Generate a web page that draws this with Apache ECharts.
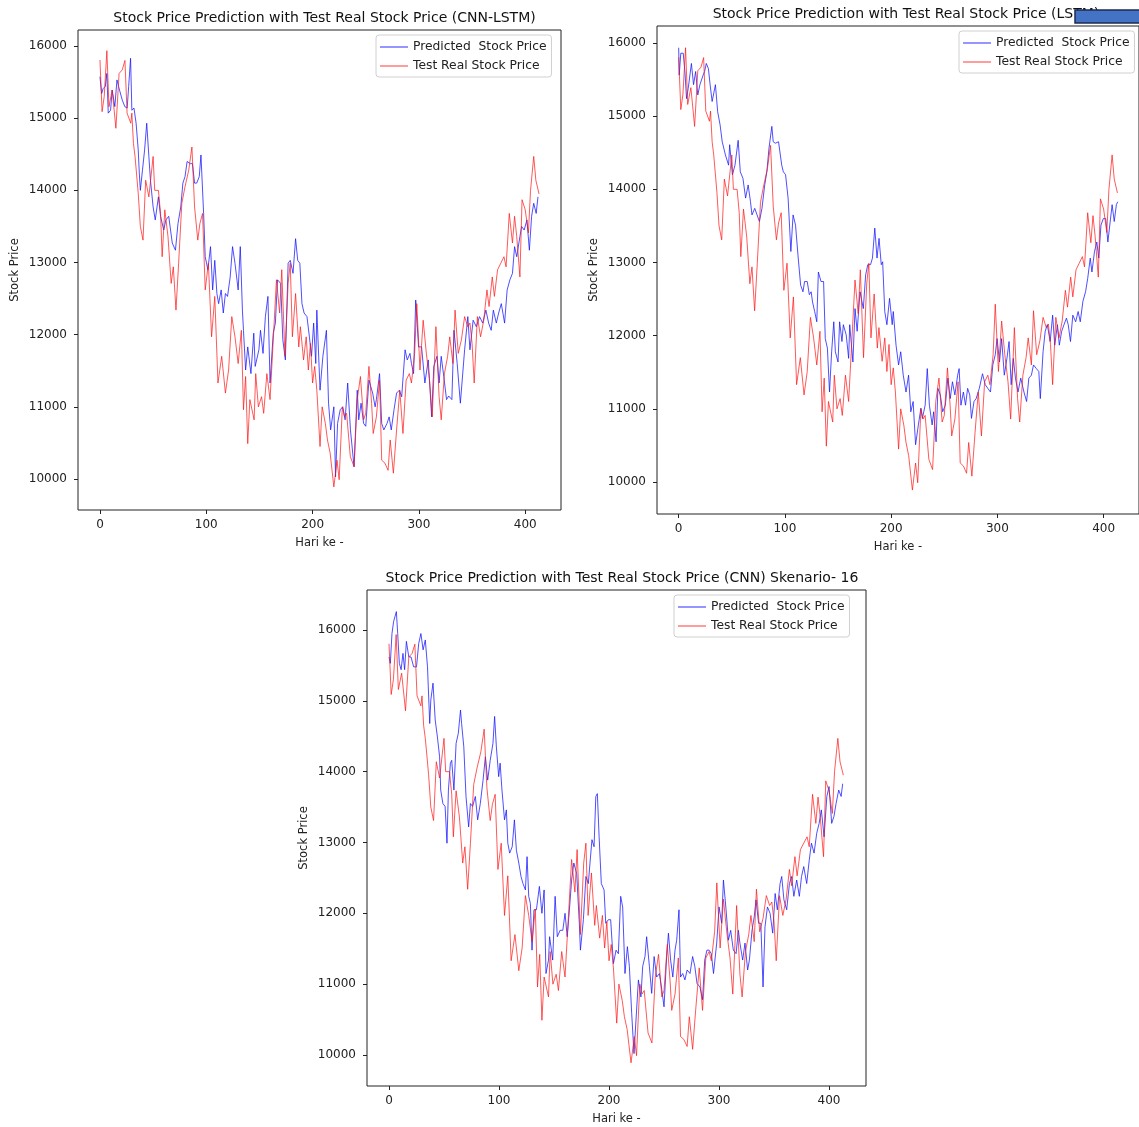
<!DOCTYPE html>
<html>
<head>
<meta charset="utf-8">
<script src="https://cdn.jsdelivr.net/npm/echarts@6/dist/echarts.min.js"></script>
<style>
html,body{margin:0;padding:0;background:#fff;}
#chart{width:1139px;height:1127px;}
</style>
</head>
<body>
<div id="chart"></div>
<script>
// ---- Data: [day, price] ----
const titles = [
  'Stock Price Prediction with Test Real Stock Price (CNN-LSTM)',
  'Stock Price Prediction with Test Real Stock Price (LSTM)',
  'Stock Price Prediction with Test Real Stock Price (CNN) Skenario- 16'
];
const seriesNames = ['Predicted  Stock Price', 'Test Real Stock Price'];
const xTicks = [0, 100, 200, 300, 400];
const yTicks = [10000, 11000, 12000, 13000, 14000, 15000, 16000];

const realPrice = [[0,15806],[2,15090],[4,15300],[6.5,15935],[8.5,15160],[11.5,15390],[15,14860],[18,15620],[21,15670],[23.5,15800],[25.5,15070],[29,14930],[30,15070],[31.5,14650],[33,14470],[36,13960],[38,13500],[40.5,13310],[43,14140],[46,13910],[50,14470],[51.5,14000],[55,14000],[57,13680],[58.5,13080],[61,13730],[64,13360],[67,12710],[69,12940],[71.5,12340],[74,12990],[77,13820],[80,14050],[83.5,14280],[86.5,14600],[89,13770],[92,13310],[94,13540],[96.5,13680],[99,12620],[102,12990],[105,11970],[108,12530],[111,11330],[114.5,11700],[118,11190],[121,11510],[124,12250],[127,11970],[130,11600],[133,12060],[135,10960],[137,11420],[139,10490],[141,11100],[145,10820],[146.5,11460],[149,11000],[152,11140],[154,10910],[157,11460],[160,11100],[163,11930],[166,12760],[169,12300],[171,12900],[174,11700],[177,12710],[179,12990],[181,11970],[184,12570],[187,11830],[188.5,12110],[191.5,11650],[194,11970],[196,11510],[198,11880],[200,11330],[202,11560],[204,11230],[207,10450],[209,11000],[212,10770],[214,10540],[216.5,10360],[220,9890],[223,10260],[225,9990],[228,11000],[230,10860],[232,10910],[235.5,10310],[239,10170],[242,11100],[245,11420],[248,10820],[250,10910],[253,11560],[255.5,11050],[257,10630],[260,10860],[263,11370],[265,10260],[268,10220],[271,10120],[273,10540],[276,10080],[279,10680],[282,11230],[285,10630],[288,11370],[291,11460],[293,11330],[296,11740],[298,12430],[301,11510],[304,12200],[307,11740],[310,11370],[312.5,10860],[316,12110],[319,11140],[321,10820],[324,11460],[327,11700],[329,11970],[332,11600],[334,12340],[337,11740],[340,11930],[343,12250],[346,12110],[348,12160],[350,11880],[352,11330],[355,12250],[358,11970],[361,12200],[364,12620],[366,12390],[369,12800],[371,12530],[374,12900],[377,12990],[380,13080],[382,12940],[385,13680],[388,13270],[390,13640],[392,13360],[395,12800],[397,13870],[400,13730],[403,13410],[405,14000],[408,14470],[410,14140],[413,13950]];

const predCnnLstm = [[0,15575],[1.6,15340],[3,15410],[5,15440],[6.5,15620],[7.8,15070],[10,15110],[11.5,15390],[14,15160],[16,15530],[18.4,15390],[21,15250],[23.4,15160],[25.6,15140],[27,15440],[28.8,15830],[30,15110],[32,15140],[34,14930],[36,14560],[37,14240],[38,14000],[40,14280],[42,14560],[44,14930],[46,14470],[47.5,14140],[50,13770],[52,13590],[55,13910],[57,13640],[60,13450],[62,13590],[64.7,13640],[68,13270],[71,13170],[73.4,13540],[76,13770],[78,14100],[80,14190],[82,14400],[85,14370],[87,14370],[89,14100],[91,14100],[93.4,14190],[95,14490],[97.5,13680],[99,13080],[101.5,12900],[104,13220],[106,12620],[108,13030],[110,12570],[111.6,12430],[114,12620],[116,12300],[118,12570],[120,12530],[122.5,12800],[124.7,13220],[127,12990],[130,12620],[132,13220],[134,12340],[135,12060],[137,11510],[139,11830],[142,11460],[144.7,12020],[146,11560],[149.5,11790],[151,12060],[153.4,11740],[155.6,12250],[158,12530],[160,11330],[163,12020],[165,12160],[167,12760],[170,12710],[172,11930],[174.4,11650],[177,12990],[179,13030],[181.6,12850],[184,13330],[186,13030],[188,12990],[190,12430],[192,12300],[194.7,12250],[197,11970],[199,11700],[201,12160],[203,11600],[204,12340],[207,11230],[209.7,11700],[213,12060],[215,11050],[217,10680],[220,11000],[221.6,10030],[223.5,10770],[226,10960],[228.4,11000],[230.6,10820],[233,11330],[235.6,10680],[239,10170],[242,11230],[243.4,10820],[245.6,11050],[248,10770],[250,10730],[253,11370],[256.5,11190],[258.8,11000],[260,11100],[263,11460],[265,10770],[267,10680],[270,10770],[272,10860],[274,10680],[276.6,10960],[279,11190],[281.6,11230],[283.8,11140],[287,11790],[289,11650],[291.6,11740],[293,11600],[295,11460],[297,12480],[299.7,11830],[302.5,11830],[305.6,11330],[308.8,11650],[312,10860],[314,11560],[317,11700],[319,11330],[321,11700],[323.4,11420],[326,11100],[328,11150],[331,11100],[333,12060],[336,11600],[339,11050],[343,11790],[346,12250],[348,11790],[351,12200],[354,12110],[357,12250],[360,12160],[363,12340],[365.6,12160],[368,12060],[370,12340],[372.8,12160],[375,12300],[377.5,12430],[380.6,12160],[383,12620],[385.6,12760],[388,12850],[390,13220],[392,13080],[395,13360],[396.6,13500],[399,13450],[401.6,13590],[403.9,13170],[406,13640],[408,13820],[410.3,13680],[412,13910]];

const predLstm = [[0,15935],[0.5,15560],[2,15860],[4.3,15860],[6,15585],[7.4,15240],[9,15380],[10.5,15400],[12,15720],[14,15430],[16,15610],[18,15290],[20,15430],[23,15560],[24.4,15610],[26,15720],[28,15650],[29.6,15430],[31.5,15200],[34.6,15430],[36.7,15060],[39,14880],[41,14650],[44,14470],[47,14330],[48,14610],[50.6,14200],[53,14330],[56,14670],[58,14240],[60.5,14150],[63,13880],[65.4,14060],[67.6,13830],[69,13650],[71.6,13740],[73.8,13650],[76,13560],[78.4,13740],[81,14060],[83,14240],[85,14560],[87.7,14860],[89,14650],[91,14630],[94,14650],[95,14670],[97,14330],[98.5,14240],[100.6,14200],[103,13880],[105.6,13150],[107.7,13650],[110,13510],[112.3,13100],[114.8,12690],[117,12600],[118.5,12740],[121,12740],[123,12560],[124.7,12600],[126,12460],[128,12330],[130,12190],[131.5,12870],[134,12740],[136.4,12740],[138,11960],[140,11830],[142,11230],[144,11780],[146,12190],[147.5,11780],[150,11640],[151.5,12190],[153.7,11920],[155,12150],[157.7,12010],[160,11690],[161,12150],[164,11640],[166,12370],[168,12060],[170.7,12600],[173.8,12370],[176,12830],[178,12970],[180.6,12970],[182.4,13060],[184.6,13470],[186.7,13060],[188.6,13330],[190.7,12970],[192,13010],[194,12330],[196,12150],[198.5,12510],[201,12150],[202,12330],[204.6,11870],[207,11600],[209,11780],[211.4,11460],[214,11230],[216.4,11460],[218.5,10960],[220.7,11100],[223,10510],[225.6,10780],[228,11010],[229.4,10870],[232,11050],[234,11550],[236,11050],[238.6,10780],[240,10960],[242.3,10550],[244,11280],[246.3,11190],[248.5,10960],[251,11050],[253.4,11420],[255.6,11140],[257.7,11370],[260,11190],[262.6,11460],[264,11550],[265.7,11050],[268,11230],[270,11050],[272,11280],[274,11190],[275.6,10870],[278,11100],[280,11140],[283,11280],[286,11480],[288.6,11330],[291,11280],[293.5,11230],[295.7,11600],[298,11740],[299.7,11960],[302,11640],[304,11960],[306.5,11460],[309,11690],[311,11920],[313,11330],[315,11690],[317,11420],[319.4,11230],[322,11420],[325,11230],[327.5,11100],[329.6,11420],[332,11460],[334,11600],[336.7,11550],[339,11510],[340.4,11140],[343,11780],[345,12060],[347,12150],[349.7,11920],[352,12280],[354,11870],[356.5,12150],[358.3,11870],[360.5,12060],[362.7,12150],[365,12240],[366.7,12150],[368.8,11920],[371,12280],[373.7,12190],[376,12330],[378,12190],[380.5,12470],[383,12600],[385,12780],[387.4,13060],[389,12870],[391.4,13150],[393.6,13280],[395.4,13060],[397.5,13510],[399.7,13600],[402,13600],[404,13280],[405.6,13280],[408,13790],[410,13560],[412,13790],[413.3,13830]];

const predCnn = [[0,15620],[1.2,15530],[2.7,15950],[4.2,16120],[6.7,16260],[7.9,15950],[9.4,15530],[11,15440],[12.7,15670],[14.2,15440],[15.8,15840],[18,15620],[20,15620],[22.4,15480],[25,15480],[27,15810],[29,15950],[31,15720],[33,15860],[35,15480],[37,14680],[38,15010],[40,15250],[42,14730],[44,14490],[46,14210],[47,13740],[49,13550],[51,13510],[52.7,12990],[54,13740],[55.8,14120],[57,14160],[59,13740],[61,14400],[63,14540],[65,14870],[66,14680],[68,14350],[70,13650],[72.4,13220],[74,13550],[76,13510],[78.5,13650],[80.6,13320],[83,13550],[85.5,13880],[87.6,14210],[89.7,13880],[92,14160],[94.5,14400],[96,14780],[97.6,14350],[99.7,13930],[101,14120],[102.7,13740],[105,13320],[106.7,13460],[108,12990],[109.7,12850],[112,12940],[114,13320],[115.8,12890],[118,12710],[120,12520],[121.8,12420],[124,12330],[125.5,12800],[127,12240],[128.5,12140],[130,11480],[131.8,12050],[134,12050],[136.7,12380],[139,12000],[141,12330],[142.7,11150],[145,11340],[146,11670],[148.8,11340],[151,12240],[153,11670],[155.5,11760],[158,11760],[160,12000],[162,11670],[164,12050],[166,12470],[168,12710],[170.6,12560],[173,11860],[174,11480],[176.7,11910],[179,12520],[181.2,12420],[182.7,12710],[184.5,13040],[186.4,12940],[188,13650],[189.4,13690],[191,13080],[193,12420],[195.5,12330],[197,11860],[199.4,11910],[201.5,11910],[204,11290],[206.4,11480],[208.5,11430],[210.6,12240],[212.4,12090],[214.5,11150],[216.7,11530],[218.5,11250],[220.6,10590],[222.7,10020],[224.5,10020],[226.7,11060],[229,10820],[230.6,11250],[232.7,11390],[234.2,11670],[236.7,11250],[238.8,10870],[241,11390],[243.3,11100],[245.8,11150],[248,10920],[250,10680],[252.4,11390],[254,11720],[256,11340],[258,11100],[260,11480],[261.5,11620],[263.6,12050],[265,11100],[267,11150],[269,11060],[271,11200],[273.6,11150],[276,11390],[278,11250],[280,11010],[282.7,10960],[285,10780],[287,11340],[289,11480],[291,11480],[293,11430],[295,11150],[297.9,11580],[300,12090],[302.4,11860],[304,12470],[306.4,12050],[308.5,11620],[310.6,11760],[313,11480],[315.5,11430],[317.6,11760],[319,11580],[321.5,11340],[323.6,11580],[326,11200],[327.6,11340],[330,11760],[332,11950],[333.6,12190],[336,11860],[338,11860],[340,10960],[341.8,11810],[344,12090],[346.4,12000],[348.8,11720],[351,12280],[353,12050],[355.5,12420],[357,12520],[359,12190],[361.5,12050],[364,12420],[366,12520],[368,12240],[370.6,12470],[373,12240],[375,12520],[377,12660],[379.7,12420],[382,12750],[384,12990],[386.4,12850],[388.8,13130],[391,13270],[393,13460],[395.5,13080],[398,13650],[400,13790],[402.4,13270],[404.5,13370],[406.4,13550],[408.8,13740],[411,13650],[412.4,13830]];

const predictions = [predCnnLstm, predLstm, predCnn];

// ---- Layout ----
const FONT = 'DejaVu Sans';
const panels = [
  {grid:{left:78, top:30, width:483, height:480}, x:[-20.65,433.65], y:[9570,16222], titleX:319.5, titleY:6, legend:{left:376, top:35}},
  {grid:{left:657, top:26, width:490, height:488}, x:[-20.4,433.3], y:[9563,16232], titleX:901, titleY:2, legend:{left:959, top:31}},
  {grid:{left:367, top:590, width:499, height:496}, x:[-20,433.6], y:[9562,16565], titleX:617, titleY:566, legend:{left:674, top:595}}
];

const option = {
  animation: false,
  backgroundColor: '#fff',
  title: panels.map((p, i) => ({
    text: titles[i], left: p.titleX, top: p.titleY, textAlign: 'center',
    textStyle: {fontFamily: FONT, fontSize: 14, fontWeight: 'normal', color: '#111'}
  })),
  legend: panels.map((p, i) => ({
    data: seriesNames.map(n => ({name: n, icon: 'rect'})), orient: 'vertical', left: p.legend.left, top: p.legend.top,
    itemWidth: 28, itemHeight: 1.2, itemGap: 5,
    backgroundColor: '#fff', borderColor: '#d0d0d0', borderWidth: 1, borderRadius: 3,
    padding: [5, 5, 4, 4],
    textStyle: {fontFamily: FONT, fontSize: 12.3, color: '#222', lineHeight: 14},
    selectedMode: false
  })),
  grid: panels.map(p => Object.assign({show: true, borderColor: '#222', borderWidth: 1, containLabel: false}, p.grid)),
  xAxis: panels.map((p, i) => ({
    gridIndex: i, type: 'value', min: p.x[0], max: p.x[1],
    name: 'Hari ke -', nameLocation: 'middle', nameGap: 27,
    nameTextStyle: {fontFamily: FONT, fontSize: 11.5, color: '#222'},
    axisLine: {show: false, onZero: false},
    axisTick: {show: true, length: 4, lineStyle: {color: '#222'}, customValues: xTicks},
    axisLabel: {fontFamily: FONT, fontSize: 12, color: '#222', margin: 9, customValues: xTicks,
      formatter: v => String(v)},
    splitLine: {show: false}
  })),
  yAxis: panels.map((p, i) => ({
    gridIndex: i, type: 'value', min: p.y[0], max: p.y[1],
    name: 'Stock Price', nameLocation: 'middle', nameGap: 57, nameRotate: 90,
    nameTextStyle: {fontFamily: FONT, fontSize: 11.5, color: '#222'},
    axisLine: {show: false, onZero: false},
    axisTick: {show: true, length: 4, lineStyle: {color: '#222'}, customValues: yTicks},
    axisLabel: {fontFamily: FONT, fontSize: 12, color: '#222', margin: 11, customValues: yTicks,
      formatter: v => String(v)},
    splitLine: {show: false}
  })),
  series: [],
  graphic: [{
    type: 'rect', shape: {x: 1075, y: 10, width: 70, height: 13},
    style: {fill: '#4472c4', stroke: '#1c2b4f', lineWidth: 1.5}, z: 100
  }]
};

panels.forEach((p, i) => {
  option.series.push({
    name: seriesNames[0], type: 'line', xAxisIndex: i, yAxisIndex: i,
    data: predictions[i], symbol: 'none', smooth: false, clip: true,
    lineStyle: {width: 1, color: 'rgba(20,20,255,0.75)'}, itemStyle: {color: 'rgba(20,20,255,0.75)'}
  });
  option.series.push({
    name: seriesNames[1], type: 'line', xAxisIndex: i, yAxisIndex: i,
    data: realPrice, symbol: 'none', smooth: false, clip: true,
    lineStyle: {width: 1, color: 'rgba(255,20,20,0.7)'}, itemStyle: {color: 'rgba(255,20,20,0.7)'}
  });
});

const chart = echarts.init(document.getElementById('chart'), null, {renderer: 'canvas'});
chart.setOption(option);
</script>
</body>
</html>
